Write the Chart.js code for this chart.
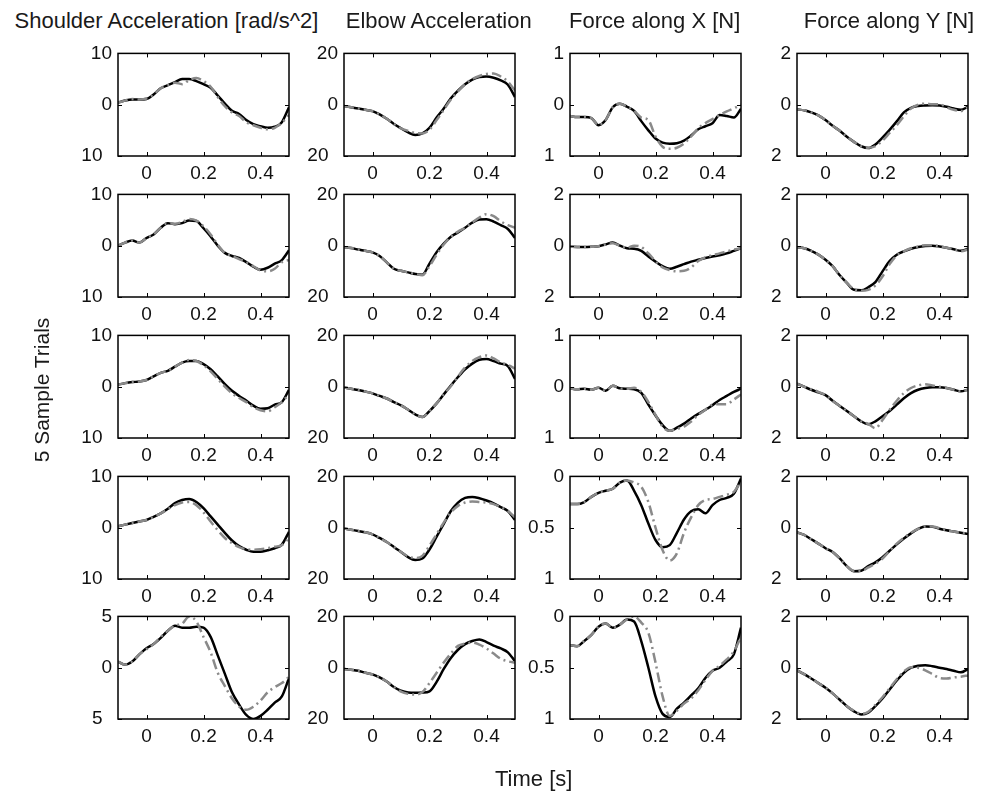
<!DOCTYPE html>
<html>
<head>
<meta charset="utf-8">
<script src="https://cdn.jsdelivr.net/npm/chart.js@4.4.0/dist/chart.umd.min.js"></script>
<style>
  body { margin: 0; background: #fff; }
  #fig { position: relative; width: 982px; height: 798px; overflow: hidden; background: #fff;
         font-family: "Liberation Sans", Arial, sans-serif; color: #1a1a1a; }
  #fig canvas { position: absolute; }
  .lbl { position: absolute; font-size: 22px; line-height: 22px; height: 22px; white-space: nowrap; }
</style>
</head>
<body>
<div id="fig"></div>
<script>
// time samples [s]
const time = [-0.1, -0.075, -0.05, -0.025, 0, 0.025, 0.05, 0.075, 0.1, 0.125, 0.15, 0.175, 0.2,
              0.225, 0.25, 0.275, 0.3, 0.325, 0.35, 0.375, 0.4, 0.425, 0.45, 0.475, 0.5];
const timeTicks = [0, 0.2, 0.4];

const columnTitles = ['Shoulder Acceleration [rad/s^2]', 'Elbow Acceleration', 'Force along X [N]', 'Force along Y [N]'];
const rowLabel = '5 Sample Trials';
const timeLabel = 'Time [s]';

// one row per trial; measured = black solid, model = gray dash-dot
const shoulderMeasured = [
  [0.4, 0.8, 1, 1, 1.1, 2, 3.2, 3.8, 4.4, 5, 5, 4.6, 4.0, 3.3, 1.8, 0.2, -1.2, -1.8, -3, -3.8, -4.2, -4.5, -4.3, -3.4, -0.5],
  [0, 0.6, 1.0, 0.6, 1.5, 2.2, 3.5, 4.4, 4.2, 4.4, 4.9, 4.8, 3.4, 1.8, 0, -1.4, -2, -2.4, -3.2, -4.1, -4.7, -4.3, -3.5, -2.8, -0.9],
  [0.4, 0.7, 0.9, 1.0, 1.3, 2, 2.7, 3.1, 3.9, 4.7, 5, 5, 4.4, 3.4, 2, 0.5, -0.8, -1.8, -2.7, -3.7, -4.3, -4.2, -3.5, -3, -0.6],
  [0.3, 0.6, 0.9, 1.2, 1.5, 2.1, 2.8, 3.7, 4.8, 5.4, 5.6, 5, 3.8, 2.2, 0.6, -1, -2.5, -3.6, -4.3, -4.7, -4.7, -4.4, -4, -3.3, -0.8],
  [0.6, 0.3, 0.6, 1.3, 1.9, 2.3, 2.9, 3.6, 4.1, 3.9, 3.9, 4, 3.9, 3, 1.2, -0.6, -2.4, -3.6, -4.6, -5, -4.7, -4.1, -3.4, -2.8, -1]
];
const shoulderModel = [
  [0.4, 0.8, 1.1, 1, 1.2, 2, 3.2, 3.8, 4.3, 4, 4.8, 5.2, 4.6, 3.5, 1.5, -0.3, -1.5, -2.2, -3.4, -4, -4.5, -4.8, -4.5, -3.5, -2],
  [0, 0.6, 1.0, 0.6, 1.5, 2.2, 3.5, 4.4, 4.3, 4.6, 5.2, 4.9, 3.8, 2.2, 0.2, -1.4, -2, -2.6, -3.2, -4, -4.8, -5, -4.5, -3.2, -2.8],
  [0.4, 0.7, 0.9, 1.0, 1.3, 2, 2.7, 3.1, 3.9, 4.7, 5.2, 5, 4.2, 3, 1.5, 0, -1.3, -2.2, -3, -4, -4.6, -4.8, -4, -3, -1.5],
  [0.3, 0.6, 0.9, 1.2, 1.5, 2.1, 2.8, 3.6, 4.4, 4.9, 5, 4.4, 3, 1.2, -0.5, -2, -3, -3.8, -4.2, -4.3, -4.2, -4, -3.7, -3.4, -2],
  [0.6, 0.3, 0.6, 1.3, 1.8, 2.3, 3, 3.6, 4.1, 4.3, 5, 4.5, 3, 1.5, -0.5, -1.8, -3, -3.8, -4.1, -3.8, -3.2, -2.4, -1.9, -1.5, -0.9]
];
const shoulderTicks = [[-10, 0, 10], [-10, 0, 10], [-10, 0, 10], [-10, 0, 10], [-5, 0, 5]];

const elbowMeasured = [
  [-0.5, -1, -1.5, -2, -2.5, -3.8, -5.5, -7.5, -9.2, -10.8, -11.8, -11.2, -9, -5, -1.5, 2.5, 5.5, 8, 9.8, 10.8, 11, 10.5, 9.5, 7.8, 3],
  [-0.5, -0.9, -1.5, -2, -2.6, -4, -6.5, -9, -9.8, -10.4, -11, -11.3, -7, -2.5, 0.8, 3.5, 5.2, 7, 9, 10.2, 10.3, 9.4, 8, 6.5, 3],
  [-0.3, -0.8, -1.3, -1.9, -2.6, -3.6, -4.6, -6, -7.3, -9, -10.8, -11.8, -9.5, -6.5, -3, 0.5, 3.8, 6.8, 9, 10.5, 10.8, 10, 9, 8, 3],
  [-0.3, -0.8, -1.3, -1.8, -2.6, -4, -5.6, -7.5, -9.5, -11.5, -12.6, -12, -8.5, -3.5, 1.5, 6.5, 9.8, 11.6, 12, 11.5, 10.6, 9.5, 8, 6.5, 3],
  [-0.5, -0.8, -1.2, -2, -2.6, -3.8, -5.4, -7.5, -9, -9.7, -9.8, -9.7, -9.2, -5.5, -0.5, 3.8, 7, 9.2, 10.4, 11, 10, 8.6, 7.5, 6, 2.5]
];
const elbowModel = [
  [-0.5, -1, -1.5, -2, -2.5, -3.8, -5.5, -7.5, -9.2, -10.2, -11, -11.2, -9.8, -6, -2, 2, 5.2, 8, 10, 11.2, 12, 12.2, 11, 9, 5.5],
  [-0.5, -0.9, -1.5, -2, -2.6, -4, -6.5, -9, -9.8, -10.4, -11, -11.5, -8, -3.5, 0.5, 3.5, 5.5, 7, 9, 11, 12.3, 11.5, 9.5, 8, 7],
  [-0.3, -0.8, -1.3, -1.9, -2.6, -3.6, -4.6, -6, -7.3, -9, -10.8, -11.8, -9.5, -6.5, -3, 0.2, 4, 7.5, 10, 11.5, 12.2, 11, 9.5, 8.5, 7],
  [-0.3, -0.8, -1.3, -1.8, -2.6, -4, -5.6, -7.5, -9.5, -11.2, -11.8, -11, -7, -2.5, 2, 6, 8.5, 9.8, 10.2, 10, 9.8, 9.2, 8, 6.5, 4],
  [-0.5, -0.8, -1.2, -2, -2.6, -3.8, -5.4, -7.5, -9.3, -10.2, -10.5, -9.5, -6, -2, 2, 5.5, 8.5, 9.4, 9.8, 9, 7.5, 5.5, 3.5, 2.5, 2]
];
const elbowTicks = [[-20, 0, 20], [-20, 0, 20], [-20, 0, 20], [-20, 0, 20], [-20, 0, 20]];

const forceXMeasured = [
  [-0.22, -0.24, -0.24, -0.26, -0.4, -0.3, -0.05, 0.02, -0.04, -0.12, -0.32, -0.5, -0.66, -0.74, -0.76, -0.75, -0.7, -0.6, -0.48, -0.42, -0.36, -0.2, -0.22, -0.25, -0.08],
  [-0.04, -0.05, -0.05, -0.04, -0.02, 0.05, 0.12, 0, -0.1, -0.12, -0.2, -0.42, -0.62, -0.8, -0.9, -0.82, -0.72, -0.62, -0.55, -0.48, -0.42, -0.37, -0.3, -0.2, -0.1],
  [-0.03, -0.05, -0.04, -0.06, -0.02, -0.08, 0.02, -0.03, -0.04, -0.05, -0.12, -0.35, -0.56, -0.75, -0.86, -0.8, -0.72, -0.62, -0.53, -0.45, -0.36, -0.26, -0.18, -0.1, -0.04],
  [-0.27, -0.27, -0.25, -0.2, -0.16, -0.14, -0.12, -0.06, -0.04, -0.14, -0.28, -0.46, -0.62, -0.69, -0.67, -0.55, -0.42, -0.34, -0.32, -0.36, -0.28, -0.23, -0.21, -0.17, -0.02],
  [-0.28, -0.29, -0.24, -0.18, -0.1, -0.07, -0.11, -0.08, -0.03, -0.05, -0.24, -0.5, -0.78, -0.95, -0.98, -0.9, -0.84, -0.77, -0.7, -0.6, -0.53, -0.5, -0.44, -0.37, -0.11]
];
const forceXModel = [
  [-0.22, -0.24, -0.24, -0.26, -0.4, -0.3, -0.05, 0.02, -0.04, -0.12, -0.25, -0.3, -0.62, -0.82, -0.86, -0.84, -0.76, -0.62, -0.46, -0.36, -0.28, -0.2, -0.13, -0.07, 0],
  [-0.04, -0.05, -0.05, -0.04, -0.02, 0.05, 0.1, 0, -0.08, 0, -0.05, -0.3, -0.6, -0.85, -0.95, -1, -0.98, -0.85, -0.6, -0.45, -0.37, -0.3, -0.22, -0.15, -0.1],
  [-0.03, -0.05, -0.04, -0.06, -0.02, -0.08, 0.02, -0.03, -0.04, -0.02, -0.1, -0.3, -0.55, -0.78, -0.86, -0.82, -0.78, -0.68, -0.55, -0.45, -0.35, -0.34, -0.34, -0.25, -0.15],
  [-0.27, -0.27, -0.25, -0.2, -0.16, -0.14, -0.12, -0.06, -0.04, -0.06, -0.1, -0.25, -0.5, -0.72, -0.82, -0.75, -0.55, -0.4, -0.28, -0.23, -0.22, -0.2, -0.18, -0.15, -0.05],
  [-0.28, -0.29, -0.24, -0.18, -0.1, -0.07, -0.11, -0.08, -0.03, 0, -0.06, -0.16, -0.45, -0.78, -0.97, -0.92, -0.85, -0.8, -0.72, -0.62, -0.53, -0.48, -0.42, -0.34, -0.2]
];
const forceXTicks = [[-1, 0, 1], [-2, 0, 2], [-1, 0, 1], [-1, -0.5, 0], [-1, -0.5, 0]];

const forceYMeasured = [
  [-0.18, -0.22, -0.3, -0.42, -0.6, -0.82, -1.02, -1.25, -1.45, -1.62, -1.69, -1.55, -1.28, -0.98, -0.65, -0.3, -0.12, -0.05, -0.03, -0.02, -0.03, -0.08, -0.15, -0.2, -0.08],
  [-0.06, -0.1, -0.2, -0.35, -0.55, -0.8, -1.15, -1.45, -1.72, -1.74, -1.62, -1.42, -1.0, -0.6, -0.35, -0.22, -0.12, -0.05, -0.01, 0, -0.03, -0.08, -0.14, -0.2, -0.12],
  [0.12, 0, -0.12, -0.22, -0.33, -0.55, -0.75, -0.95, -1.15, -1.35, -1.46, -1.35, -1.15, -0.95, -0.7, -0.45, -0.25, -0.12, -0.05, -0.02, -0.02, -0.05, -0.12, -0.18, -0.12],
  [-0.18, -0.28, -0.45, -0.62, -0.8, -0.95, -1.2, -1.5, -1.7, -1.68, -1.5, -1.35, -1.15, -0.9, -0.65, -0.42, -0.22, -0.05, 0.05, 0.04, -0.04, -0.1, -0.15, -0.2, -0.25],
  [-0.1, -0.25, -0.42, -0.6, -0.78, -1.0, -1.25, -1.5, -1.7, -1.82, -1.75, -1.5, -1.2, -0.85, -0.5, -0.2, 0, 0.08, 0.1, 0.06, 0, -0.05, -0.12, -0.18, -0.05]
];
const forceYModel = [
  [-0.18, -0.22, -0.3, -0.42, -0.6, -0.82, -1.02, -1.25, -1.45, -1.62, -1.68, -1.62, -1.4, -1.1, -0.8, -0.45, -0.15, 0, 0.04, 0.02, 0.02, -0.1, -0.2, -0.25, -0.1],
  [-0.06, -0.1, -0.2, -0.35, -0.55, -0.8, -1.15, -1.45, -1.7, -1.76, -1.72, -1.55, -1.2, -0.72, -0.38, -0.22, -0.1, -0.03, 0.02, 0.02, -0.02, -0.08, -0.14, -0.22, -0.15],
  [0.12, 0, -0.1, -0.2, -0.33, -0.55, -0.75, -0.95, -1.15, -1.35, -1.45, -1.62, -1.3, -0.9, -0.55, -0.25, -0.05, 0.05, 0.1, 0.05, 0, -0.05, -0.12, -0.18, -0.12],
  [-0.18, -0.28, -0.45, -0.62, -0.8, -0.95, -1.2, -1.5, -1.68, -1.68, -1.55, -1.4, -1.2, -0.9, -0.62, -0.4, -0.2, -0.05, 0.05, 0.05, -0.02, -0.1, -0.15, -0.2, -0.22],
  [-0.1, -0.25, -0.42, -0.6, -0.78, -1.0, -1.25, -1.5, -1.68, -1.8, -1.72, -1.45, -1.15, -0.8, -0.45, -0.15, 0.02, 0, -0.1, -0.25, -0.4, -0.42, -0.38, -0.35, -0.3]
];
const forceYTicks = [[-2, 0, 2], [-2, 0, 2], [-2, 0, 2], [-2, 0, 2], [-2, 0, 2]];

// ---- layout ----
const colLeft = [118, 344, 570, 797];
const rowTop = [50, 191, 332, 473, 613];
const BOX_W = 171, BOX_H = 106;
const PAD_L = 64, PAD_T = 14, PAD_R = 14, PAD_B = 40;
const FONT = '"Liberation Sans", Arial, sans-serif';

const columns = [
  { measured: shoulderMeasured, model: shoulderModel, ticks: shoulderTicks },
  { measured: elbowMeasured, model: elbowModel, ticks: elbowTicks },
  { measured: forceXMeasured, model: forceXModel, ticks: forceXTicks },
  { measured: forceYMeasured, model: forceYModel, ticks: forceYTicks }
];

// the original figure lost its minus signs, the space is still there
function yLabel(v) {
  return v < 0 ? String(-v) + '\u2002' : String(v);
}

// box round the axes plus inward tick marks on all four sides
const framePlugin = {
  id: 'frame',
  afterDraw(chart) {
    const { ctx, chartArea: a, scales: { x, y } } = chart;
    ctx.save();
    ctx.strokeStyle = '#000';
    ctx.lineWidth = 1;
    ctx.beginPath();
    x.ticks.forEach(t => {
      const px = Math.round(x.getPixelForValue(t.value)) + 0.5;
      ctx.moveTo(px, a.top); ctx.lineTo(px, a.top + 4);
      ctx.moveTo(px, a.bottom); ctx.lineTo(px, a.bottom - 4);
    });
    y.ticks.forEach(t => {
      const py = Math.round(y.getPixelForValue(t.value)) + 0.5;
      ctx.moveTo(a.left, py); ctx.lineTo(a.left + 4, py);
      ctx.moveTo(a.right, py); ctx.lineTo(a.right - 4, py);
    });
    ctx.stroke();
    ctx.lineWidth = 1.5;
    ctx.strokeRect(a.left, a.top, a.right - a.left, a.bottom - a.top);
    ctx.restore();
  }
};

const fig = document.getElementById('fig');

function addLabel(text, cx, top, rotate, size) {
  const d = document.createElement('div');
  d.className = 'lbl';
  d.textContent = text;
  d.style.left = cx + 'px';
  d.style.top = top + 'px';
  if (size) d.style.fontSize = size + 'px';
  d.style.transform = rotate ? 'translate(-50%, -50%) rotate(-90deg)' : 'translateX(-50%)';
  fig.appendChild(d);
}

function makePanel(col, row) {
  const c = columns[col];
  const yt = c.ticks[row];
  const canvas = document.createElement('canvas');
  canvas.width = PAD_L + BOX_W + PAD_R;
  canvas.height = PAD_T + BOX_H + PAD_B;
  canvas.style.left = (colLeft[col] - PAD_L) + 'px';
  canvas.style.top = (rowTop[row] - PAD_T) + 'px';
  fig.appendChild(canvas);

  const pts = arr => arr.map((v, i) => ({ x: time[i], y: v }));

  new Chart(canvas, {
    type: 'line',
    data: {
      datasets: [
        { data: pts(c.model[row]), borderColor: '#8a8a8a', borderWidth: 2.5, borderDash: [10, 4, 2, 4],
          pointRadius: 0, cubicInterpolationMode: 'monotone' },
        { data: pts(c.measured[row]), borderColor: '#000', borderWidth: 2.5,
          pointRadius: 0, cubicInterpolationMode: 'monotone' }
      ]
    },
    options: {
      responsive: false,
      animation: false,
      events: [],
      layout: { padding: { left: 0, top: PAD_T, right: PAD_R, bottom: 0 } },
      plugins: { legend: { display: false }, tooltip: { enabled: false } },
      scales: {
        x: {
          type: 'linear', min: -0.1, max: 0.5,
          grid: { display: false, drawTicks: false }, border: { display: false },
          afterBuildTicks: s => { s.ticks = timeTicks.map(v => ({ value: v })); },
          afterFit: s => { s.height = PAD_B; },
          ticks: { padding: 6, color: '#111', autoSkip: false, maxRotation: 0,
                   font: { family: FONT, size: 19 }, callback: v => String(v) }
        },
        y: {
          type: 'linear', min: yt[0], max: yt[yt.length - 1],
          grid: { display: false, drawTicks: false }, border: { display: false },
          afterBuildTicks: s => { s.ticks = yt.map(v => ({ value: v })); },
          afterFit: s => { s.width = PAD_L; },
          ticks: { padding: 6, color: '#111', autoSkip: false,
                   font: { family: FONT, size: 19 }, callback: v => yLabel(v) }
        }
      }
    },
    plugins: [framePlugin]
  });
}

for (let r = 0; r < rowTop.length; r++) {
  for (let c = 0; c < colLeft.length; c++) makePanel(c, r);
}

const titleCenters = [166.5, 438.7, 654.7, 889];
columnTitles.forEach((t, i) => addLabel(t, titleCenters[i], 9.5, false));
addLabel(rowLabel, 42, 390, true, 21);
addLabel(timeLabel, 533.7, 768, false);
</script>
</body>
</html>
